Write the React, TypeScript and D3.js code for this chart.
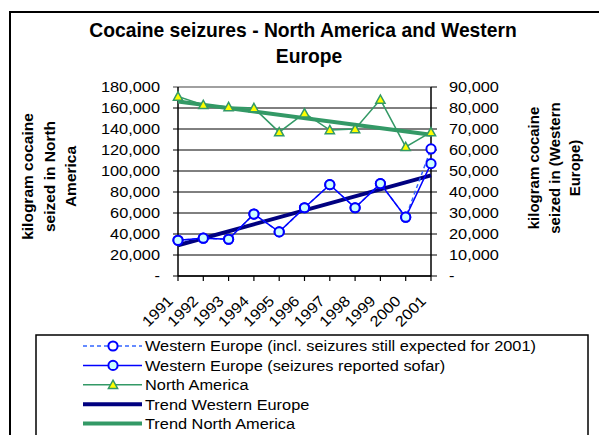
import React from "react";
import * as d3 from "d3";

const years = ["1991","1992","1993","1994","1995","1996","1997","1998","1999","2000","2001"];
const northAmerica = [171000,163000,161000,160000,137000,155000,139000,140000,168000,123000,137000];
const weReported = [17000,18000,17500,29500,21000,32500,43500,32500,44000,28000,53500];
const weExpected = [17000,18000,17500,29500,21000,32500,43500,32500,44000,28000,60500];
const leftTicks = [0,20000,40000,60000,80000,100000,120000,140000,160000,180000];
const rightTicks = [0,10000,20000,30000,40000,50000,60000,70000,80000,90000];
const legendLabels = [
  "Western Europe (incl. seizures still expected for 2001)",
  "Western Europe (seizures reported sofar)",
  "North America",
  "Trend Western Europe",
  "Trend North America",
];

function trend(vals: number[]) {
  const n = vals.length;
  const xs = vals.map((_, i) => i);
  const mx = d3.mean(xs)!;
  const my = d3.mean(vals)!;
  const sxy = d3.sum(xs.map((x, i) => (x - mx) * (vals[i] - my)));
  const sxx = d3.sum(xs.map((x) => (x - mx) * (x - mx)));
  const b = sxy / sxx;
  const a = my - b * mx;
  return [a, a + b * (n - 1)];
}

const FONT = "'Liberation Sans', Arial, sans-serif";
const SX = 1.09;

export default function App() {
  const x = d3.scalePoint<string>().domain(years).range([178, 431]);
  const yL = d3.scaleLinear().domain([0, 180000]).range([276, 87]);
  const yR = d3.scaleLinear().domain([0, 90000]).range([276, 87]);
  const fmt = (v: number) => (v === 0 ? "-" : d3.format(",")(v));

  const lineL = d3.line<number>().x((_, i) => x(years[i])!).y((d) => yL(d));
  const lineR = d3.line<number>().x((_, i) => x(years[i])!).y((d) => yR(d));

  const weTrend = trend(weExpected);
  const naTrend = trend(northAmerica);
  const x0 = x(years[0])!;
  const x1 = x(years[years.length - 1])!;

  const tri = (cx: number, cy: number, s = 4.6) =>
    `M${cx},${cy - s} L${cx + s},${cy + s * 0.8} L${cx - s},${cy + s * 0.8} Z`;

  const legY = (i: number) => 346 + i * 19.4;

  return (
    <svg width={599} height={435} style={{ position: "absolute", left: 0, top: 0, background: "#fff" }} fontFamily={FONT}>
      <rect x={0} y={0} width={599} height={435} fill="#fff" />
      <rect x={10} y={12} width={640} height={460} fill="none" stroke="#000" strokeWidth={2} />
      {/* Title */}
      <text x={303} y={36.7} textAnchor="middle" fontWeight="bold" fontSize={19.3}>
        Cocaine seizures - North America and Western
      </text>
      <text x={309} y={63.3} textAnchor="middle" fontWeight="bold" fontSize={19.3}>
        Europe
      </text>

      {/* Gridlines */}
      {leftTicks.map((t) => (
        <line key={t} x1={173} x2={431} y1={yL(t)} y2={yL(t)} stroke={t === 180000 ? "#808080" : "#000"} strokeWidth={t === 180000 ? 1.5 : 1} />
      ))}
      {/* right ticks */}
      {rightTicks.map((t) => (
        <line key={"r" + t} x1={431} x2={437} y1={yR(t)} y2={yR(t)} stroke="#000" strokeWidth={1} />
      ))}
      {/* Axes */}
      <line x1={178} x2={178} y1={87} y2={276} stroke="#000" strokeWidth={1.5} />
      <line x1={431} x2={431} y1={87} y2={276} stroke="#000" strokeWidth={1.5} />
      <line x1={178} x2={431} y1={276} y2={276} stroke="#000" strokeWidth={1.5} />
      {years.map((yr) => (
        <line key={yr} x1={x(yr)!} x2={x(yr)!} y1={276} y2={281} stroke="#000" strokeWidth={1.2} />
      ))}

      {/* Tick labels */}
      {leftTicks.map((t) => (
        <text key={"lt" + t} transform={`translate(160,${yL(t) + 5.3}) scale(${SX},1)`} textAnchor="end" fontSize={15}>
          {fmt(t)}
        </text>
      ))}
      {rightTicks.map((t) => (
        <text key={"rt" + t} transform={`translate(449,${yR(t) + 5.3}) scale(${SX},1)`} textAnchor="start" fontSize={15}>
          {fmt(t)}
        </text>
      ))}
      {years.map((yr) => (
        <text key={"xl" + yr} transform={`translate(${x(yr)! - 4},${302}) rotate(-45) scale(${SX},1)`} textAnchor="end" fontSize={15}>
          {yr}
        </text>
      ))}

      {/* Axis titles */}
      <g transform="translate(0,176.5) rotate(-90)" fontWeight="bold" fontSize={15.5} textAnchor="middle">
        <text x={0} y={33}>kilogram cocaine</text>
        <text x={0} y={54.5}>seized in North</text>
        <text x={0} y={76}>America</text>
      </g>
      <g transform="translate(0,168) rotate(-90)" fontWeight="bold" fontSize={15} textAnchor="middle">
        <text x={0} y={539}>kilogram cocaine</text>
        <text x={0} y={559.5}>seized in (Western</text>
        <text x={0} y={579.5}>Europe)</text>
      </g>

      {/* Trend lines */}
      <line x1={x0} x2={x1} y1={yL(naTrend[0])} y2={yL(naTrend[1])} stroke="#339966" strokeWidth={4} />
      <line x1={x0} x2={x1} y1={yR(weTrend[0])} y2={yR(weTrend[1])} stroke="#000080" strokeWidth={4} />

      {/* WE expected (dashed) */}
      <path d={lineR(weExpected)!} fill="none" stroke="#3366FF" strokeWidth={1.5} strokeDasharray="4,3" />
      {weExpected.map((v, i) => (
        <circle key={"e" + i} cx={x(years[i])!} cy={yR(v)} r={4.6} fill="#fff" stroke="#0000FF" strokeWidth={2} />
      ))}
      {/* WE reported */}
      <path d={lineR(weReported)!} fill="none" stroke="#0000FF" strokeWidth={1.5} />
      {weReported.map((v, i) => (
        <circle key={"r" + i} cx={x(years[i])!} cy={yR(v)} r={4.6} fill="#CCFFFF" stroke="#0000FF" strokeWidth={2} />
      ))}
      {/* North America */}
      <path d={lineL(northAmerica)!} fill="none" stroke="#339966" strokeWidth={1.5} />
      {northAmerica.map((v, i) => (
        <path key={"n" + i} d={tri(x(years[i])!, yL(v))} fill="#FFFF00" stroke="#339966" strokeWidth={1.5} />
      ))}

      {/* Legend */}
      <rect x={36} y={335} width={552} height={120} fill="#fff" stroke="#000" strokeWidth={1.5} />
      <line x1={83} x2={142} y1={legY(0)} y2={legY(0)} stroke="#3366FF" strokeWidth={1.5} strokeDasharray="4,3" />
      <circle cx={113} cy={legY(0)} r={4.6} fill="#fff" stroke="#0000FF" strokeWidth={2} />
      <line x1={83} x2={142} y1={legY(1)} y2={legY(1)} stroke="#0000FF" strokeWidth={1.5} />
      <circle cx={113} cy={legY(1)} r={4.6} fill="#CCFFFF" stroke="#0000FF" strokeWidth={2} />
      <line x1={83} x2={142} y1={legY(2)} y2={legY(2)} stroke="#339966" strokeWidth={1.5} />
      <path d={tri(113, legY(2))} fill="#FFFF00" stroke="#339966" strokeWidth={1.5} />
      <line x1={83} x2={142} y1={legY(3)} y2={legY(3)} stroke="#000080" strokeWidth={4} />
      <line x1={83} x2={142} y1={legY(4)} y2={legY(4)} stroke="#339966" strokeWidth={4} />
      {legendLabels.map((l, i) => (
        <text key={l} transform={`translate(145,${legY(i) + 5.3}) scale(${SX},1)`} fontSize={15}>
          {l}
        </text>
      ))}
    </svg>
  );
}
